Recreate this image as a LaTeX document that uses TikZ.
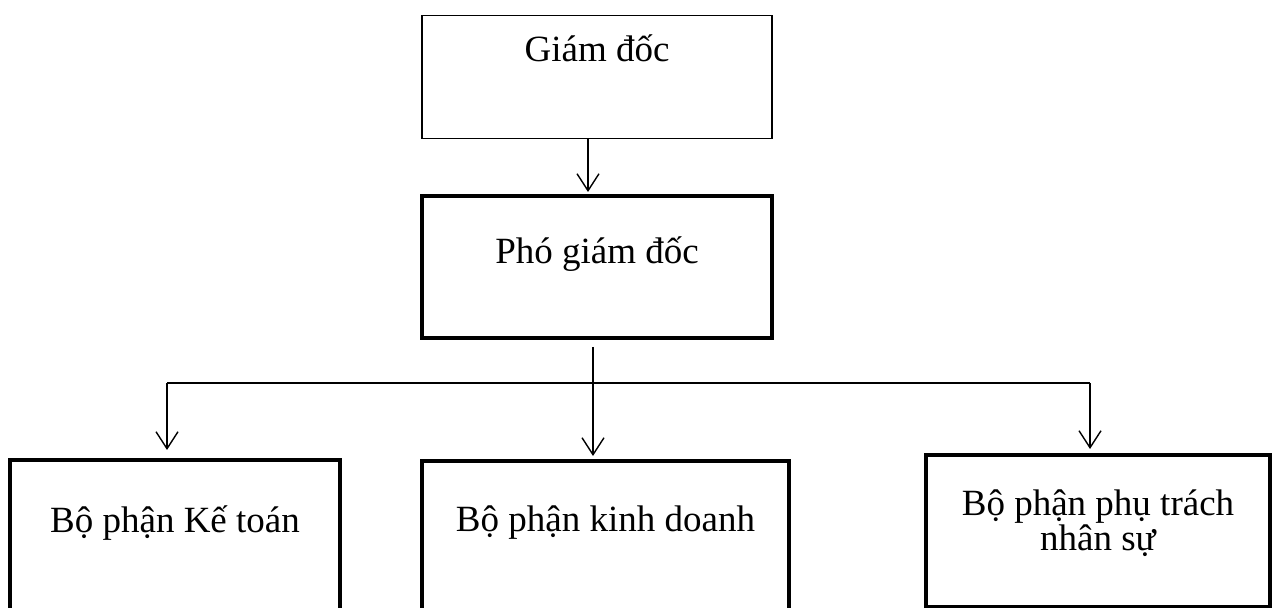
\documentclass[tikz,border=0pt]{standalone}
\usepackage{fontspec}
\setmainfont{Liberation Serif}
\usepackage{tikz}
\usetikzlibrary{positioning,arrows.meta}

\tikzset{
  box/.style={draw, rectangle, anchor=north, inner sep=0pt, align=center},
  thin box/.style={box, line width=0.6pt},
  thick box/.style={box, line width=2pt},
  arr/.style={line width=0.7pt, -{Straight Barb[length=8.5pt,width=11pt,line width=0.7pt]}}
}

\begin{document}
\begin{tikzpicture}[x=0.5pt, y=-0.5pt, font=\fontsize{18.5}{17.5}\selectfont]
          \useasboundingbox (0,0) rectangle (1278,608);

          \node[thin box, minimum width=175pt, text height=23pt, text depth=38.5pt] (g) at (597,15) {Giám đốc};
          \node[thick box, minimum width=175pt, text height=34pt, text depth=37pt] (p) at (597,194) {Phó giám đốc};
          \node[thick box, minimum width=165pt, text height=36pt, text depth=55pt] (b1) at (175,458) {Bộ phận Kế toán};
          \node[thick box, minimum width=183.5pt, text height=35pt, text depth=55.5pt] (b2) at (605.5,459) {Bộ phận kinh doanh};
          \node[thick box, minimum width=172pt, text height=47.5pt, text depth=28.5pt] (b3) at (1098,453) {Bộ phận phụ trách\\nhân sự};

          \coordinate (bus) at (593,383);

          \draw [arr] ([xshift=-4.5pt]g.south) -- ([xshift=-4.5pt,yshift=1pt]p.north);
          \draw [line width=0.7pt] ([xshift=-2pt,yshift=-3.5pt]p.south) -- ([xshift=-2pt]p.south |- bus);
          \draw [line width=0.7pt] ([xshift=-4pt]b1.north |- bus) -- ([xshift=-4pt]b3.north |- bus);
          \draw [arr] ([xshift=-2pt]p.south |- bus) -- ([xshift=-6.25pt,yshift=1.5pt]b2.north);
          \draw [arr] ([xshift=-4pt]b1.north |- bus) -- ([xshift=-4pt,yshift=4pt]b1.north);
          \draw [arr] ([xshift=-4pt]b3.north |- bus) -- ([xshift=-4pt,yshift=2pt]b3.north);
        \end{tikzpicture}
\end{document}
